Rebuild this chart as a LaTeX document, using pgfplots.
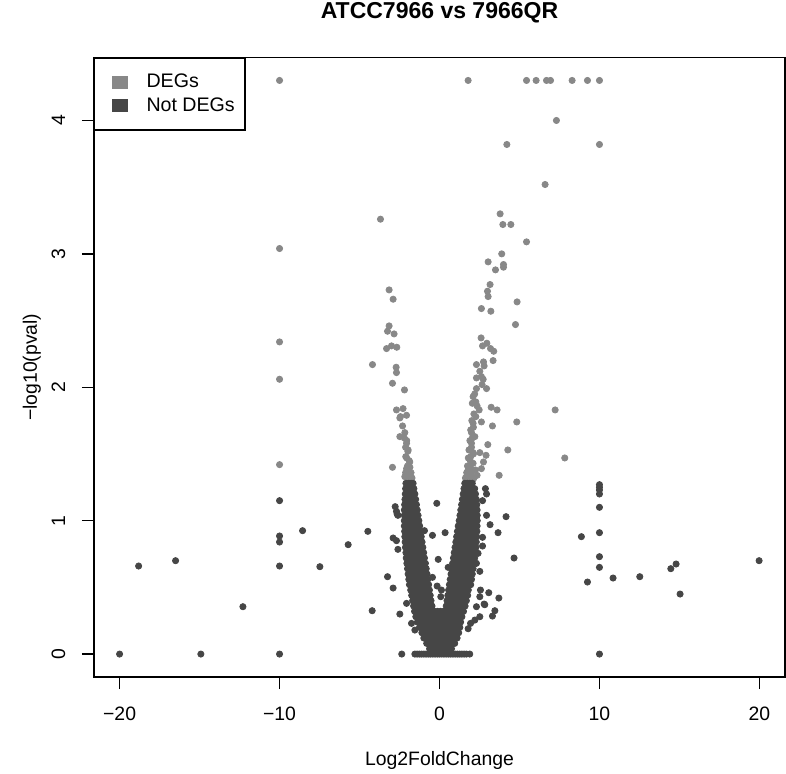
\documentclass[border=0pt]{standalone}
\usepackage{fontspec}
\setmainfont{Liberation Sans}
\usepackage{pgfplots}
\pgfplotsset{compat=1.18}
\definecolor{degcol}{RGB}{136,136,136}
\definecolor{ndegcol}{RGB}{70,70,70}
\begin{document}
\begin{tikzpicture}
\useasboundingbox (-47pt,-48pt) rectangle (346pt,338.5pt);
\begin{axis}[
    scale only axis,
    at={(0pt,0pt)}, anchor=south west,
    width=345.5pt, height=309.75pt,
    xmin=-21.6, xmax=21.6, ymin=-0.172, ymax=4.472,
    axis line style={line width=0.75pt, black},
    tick style={line width=0.75pt, black},
    tick align=outside, major tick length=6pt,
    xtick pos=bottom, ytick pos=left,
    xtick={-20,-10,0,10,20}, xticklabels={−20,−10,0,10,20},
    ytick={0,1,2,3,4}, yticklabels={0,1,2,3,4},
    tick label style={font=\fontsize{9.7}{11}\selectfont},
    xticklabel style={anchor=base},
    xticklabel shift=15.5pt,
    yticklabel style={anchor=base, rotate=90},
    yticklabel shift=8.5pt,
    every axis title shift=0pt,
    title={ATCC7966 vs 7966QR},
    title style={at={(axis description cs:0.5,1)}, anchor=base, yshift=19.6pt,
        font=\bfseries\fontsize{11.5}{13}\selectfont},
    xlabel={Log2FoldChange},
    xlabel style={at={(axis description cs:0.5,0)}, anchor=base, yshift=-44.25pt,
        font=\fontsize{9.7}{11}\selectfont},
    ylabel={−log10(pval)},
    ylabel style={at={(axis description cs:-0.0825,0.5)}, anchor=base,
        font=\fontsize{9.7}{11}\selectfont},
    legend style={at={(axis description cs:0,1)}, anchor=north west,
        draw=black, line width=0.75pt, fill=white,
        font=\fontsize{9.8}{11}\selectfont,
        inner xsep=3.2pt, inner ysep=5.9pt, row sep=-0.6pt,
        cells={anchor=west},
        /tikz/every odd column/.append style={column sep=7.5pt}},
    legend image code/.code={\path (0pt,0pt); \fill[#1] (5.3pt,-2.9pt) rectangle (12.45pt,2.9pt);},
]
% DEGs
\addplot[only marks, mark=*, color=degcol, mark size=1.55pt, mark options={draw=none}] coordinates {
(-10,4.3)(1.79,4.3)(5.44,4.3)(6.04,4.3)(6.69,4.3)(6.94,4.3)(8.29,4.3)(9.25,4.3)(10,4.3)
(7.31,4.0)(4.21,3.82)(10,3.82)(6.6,3.52)(-3.69,3.26)(-10,3.04)(-10,2.34)(-10,2.06)(-10,1.42)
(3.79,3.30)(3.96,3.22)(4.46,3.22)(5.44,3.09)(3.89,3.0)(3.04,2.94)(4.0,2.92)(4.0,2.9)(3.5,2.88)
(3.16,2.77)(3.0,2.72)(3.04,2.68)(4.85,2.64)(2.62,2.59)(3.21,2.57)(4.75,2.47)(2.6,2.37)(2.96,2.33)
(2.69,2.31)(3.19,2.29)(3.39,2.27)(3.35,2.2)(2.31,2.17)(2.75,2.19)(2.79,2.16)(2.52,2.12)(2.62,2.08)
(2.31,2.07)(2.73,2.06)(2.66,2.02)(2.94,1.99)(2.31,1.99)(2.1,1.93)(2.27,1.89)(2.35,1.86)(2.48,1.83)
(3.23,1.85)(3.6,1.83)(7.23,1.83)(2.27,1.78)(2.1,1.73)(2.62,1.74)(3.31,1.71)(4.83,1.74)(2.0,1.66)
(2.21,1.63)(2.0,1.58)(3.02,1.57)(4.27,1.53)(1.85,1.53)(2.1,1.51)(2.52,1.51)(2.91,1.49)(1.89,1.46)
(2.75,1.44)(7.83,1.47)(2.62,1.39)(1.79,1.38)(2.0,1.36)(3.73,1.34)(1.69,1.33)(2.1,1.31)
(-3.15,2.73)(-2.9,2.66)(-3.15,2.46)(-3.25,2.42)(-2.84,2.4)(-3.0,2.31)(-3.31,2.29)(-2.67,2.3)
(-4.19,2.17)(-2.71,2.15)(-2.69,2.11)(-2.94,2.03)(-2.19,1.98)(-2.69,1.83)(-2.28,1.84)(-2.44,1.78)
(-2.48,1.77)(-2.06,1.79)(-2.31,1.71)(-2.17,1.66)(-2.48,1.63)(-2.06,1.58)(-1.96,1.53)(-2.11,1.48)
(-1.86,1.44)(-2.94,1.40)(-2.06,1.39)(-1.96,1.36)(-2.17,1.33)(-1.86,1.32)
(-1.72,1.32)(-1.9,1.32)(-2.05,1.33)(-1.78,1.36)(-1.95,1.37)(-2.12,1.36)(-1.85,1.4)(-2.0,1.41)
(-1.9,1.45)(-2.05,1.47)(-1.98,1.52)(-2.12,1.55)(-2.05,1.6)(-2.2,1.62)
(1.62,1.32)(1.8,1.32)(1.98,1.33)(2.15,1.32)(2.35,1.34)(1.7,1.36)(1.88,1.37)(2.05,1.38)(2.25,1.38)
(1.75,1.41)(1.92,1.42)(2.1,1.43)(1.8,1.47)(1.95,1.48)(2.12,1.5)(1.85,1.53)(2.0,1.55)(1.9,1.6)
(2.05,1.62)(1.95,1.68)(2.12,1.7)(2.02,1.75)(2.15,1.8)(2.05,1.88)(2.2,1.95)
};
\addlegendentry{DEGs}
% Not DEGs
\addplot[only marks, mark=*, color=ndegcol, mark size=1.55pt, mark options={draw=none}] coordinates {
(-20,0)(-14.92,0)(-10,0)(-10,1.15)(-10,0.885)(-10,0.84)(-10,0.66)(-18.81,0.66)(-16.5,0.70)
(-12.29,0.355)(-8.56,0.925)(-7.48,0.655)(-5.71,0.82)(-4.48,0.92)(-4.21,0.325)(-3.25,0.58)
(-2.9,0.495)(-2.77,1.105)(-2.6,1.04)(-2.9,0.87)(-2.69,0.85)(-2.6,0.785)(-2.48,0.30)(-2.36,0)
(-2.06,0.38)(-1.75,0.23)(-1.54,0.18)(-2.65,1.05)(-2.69,1.07)
(-0.17,1.13)(-0.94,0.925)(-0.44,0.89)(0.35,0.91)(-0.08,0.71)(0.54,0.65)(-0.44,0.575)(-0.15,0.51)
(0.12,0.48)(0.08,0.43)
(10,1.27)(10,1.25)(10,1.23)(10,1.2)(10,1.1)(10,0.91)(10,0.73)(10,0.65)(10,0)(8.87,0.88)(9.25,0.54)
(10.85,0.57)(12.52,0.58)(14.46,0.64)(14.79,0.675)(15.04,0.45)(19.98,0.70)
(4.66,0.72)(4.16,1.03)(3.66,0.91)(3.16,0.97)(3.71,0.42)(3.31,0.285)(3.46,0.325)(3.08,0.46)(2.83,0.37)
(2.87,1.24)(2.94,1.2)(2.69,1.15)(2.94,1.04)(2.69,0.875)(2.69,0.81)(2.41,0.755)(2.31,0.68)(2.52,0.62)
(2.56,0.48)(2.52,0.43)(2.79,0.375)(2.31,0.355)(2.52,0.28)(2.21,0.255)(1.94,0.23)(1.79,0.19)
(-1.54,0)(-1.4,0)(-1.26,0)(-1.12,0)(-0.98,0)(-0.84,0)(-0.7,0)(-0.56,0)(-0.42,0)(-0.28,0)(-0.14,0)
(0,0)(0.14,0)(0.28,0)(0.42,0)(0.56,0)(0.7,0)(0.84,0)(0.98,0)(1.12,0)(1.26,0)(1.4,0)(1.54,0)(1.68,0)(1.89,0)
(-0.62,0.04)(-0.44,0.04)(-0.26,0.04)(-0.08,0.04)(0.1,0.04)(0.28,0.04)(0.46,0.04)(0.64,0.04)(0.75,0.04)
(-0.8,0.08)(-0.62,0.08)(-0.44,0.08)(-0.26,0.08)(-0.08,0.08)(0.1,0.08)(0.28,0.08)(0.46,0.08)(0.64,0.08)(0.82,0.08)(0.95,0.08)
(-0.98,0.12)(-0.8,0.12)(-0.62,0.12)(-0.44,0.12)(-0.26,0.12)(-0.08,0.12)(0.1,0.12)(0.28,0.12)(0.46,0.12)(0.64,0.12)(0.82,0.12)(1.0,0.12)(1.1,0.12)
(-1.1,0.16)(-0.92,0.16)(-0.74,0.16)(-0.56,0.16)(-0.38,0.16)(-0.2,0.16)(-0.02,0.16)(0.16,0.16)(0.34,0.16)(0.52,0.16)(0.7,0.16)(0.88,0.16)(1.06,0.16)(1.2,0.16)
(-1.25,0.2)(-1.07,0.2)(-0.89,0.2)(-0.71,0.2)(-0.53,0.2)(-0.35,0.2)(-0.17,0.2)(0.01,0.2)(0.19,0.2)(0.37,0.2)(0.55,0.2)(0.73,0.2)(0.91,0.2)(1.09,0.2)(1.27,0.2)
(-1.38,0.24)(-1.2,0.24)(-1.02,0.24)(-0.84,0.24)(-0.66,0.24)(-0.48,0.24)(-0.3,0.24)(-0.12,0.24)(0.06,0.24)(0.24,0.24)(0.42,0.24)(0.6,0.24)(0.78,0.24)(0.96,0.24)(1.14,0.24)(1.32,0.24)
(-1.48,0.28)(-1.3,0.28)(-1.12,0.28)(-0.94,0.28)(-0.76,0.28)(-0.58,0.28)(-0.4,0.28)(-0.22,0.28)(-0.04,0.28)(0.14,0.28)(0.32,0.28)(0.5,0.28)(0.68,0.28)(0.86,0.28)(1.04,0.28)(1.22,0.28)(1.4,0.28)
(-1.56,0.32)(-1.38,0.32)(-1.2,0.32)(-1.02,0.32)(-0.84,0.32)(-0.66,0.32)(-0.48,0.32)(-0.3,0.32)(-0.12,0.32)(0.06,0.32)(0.24,0.32)(0.42,0.32)(0.6,0.32)(0.78,0.32)(0.96,0.32)(1.14,0.32)(1.32,0.32)(1.5,0.32)
(-1.62,0.36)(-1.44,0.36)(-1.26,0.36)(-1.08,0.36)(-0.9,0.36)(-0.72,0.36)(-0.54,0.36)(-0.47,0.36)(0.42,0.36)(0.58,0.36)(0.76,0.36)(0.94,0.36)(1.12,0.36)(1.3,0.36)(1.48,0.36)(1.6,0.36)
(-1.68,0.4)(-1.5,0.4)(-1.32,0.4)(-1.14,0.4)(-0.96,0.4)(-0.78,0.4)(-0.6,0.4)(-0.53,0.4)(0.47,0.4)(0.62,0.4)(0.8,0.4)(0.98,0.4)(1.16,0.4)(1.34,0.4)(1.52,0.4)(1.68,0.4)
(-1.74,0.44)(-1.56,0.44)(-1.38,0.44)(-1.2,0.44)(-1.02,0.44)(-0.84,0.44)(-0.66,0.44)(-0.58,0.44)(0.52,0.44)(0.68,0.44)(0.86,0.44)(1.04,0.44)(1.22,0.44)(1.4,0.44)(1.58,0.44)(1.76,0.44)
(-1.8,0.48)(-1.62,0.48)(-1.44,0.48)(-1.26,0.48)(-1.08,0.48)(-0.9,0.48)(-0.72,0.48)(-0.63,0.48)(0.57,0.48)(0.72,0.48)(0.9,0.48)(1.08,0.48)(1.26,0.48)(1.44,0.48)(1.62,0.48)(1.8,0.48)
(-1.88,0.52)(-1.7,0.52)(-1.52,0.52)(-1.34,0.52)(-1.16,0.52)(-0.98,0.52)(-0.8,0.52)(-0.68,0.52)(0.62,0.52)(0.78,0.52)(0.96,0.52)(1.14,0.52)(1.32,0.52)(1.5,0.52)(1.68,0.52)(1.86,0.52)(1.95,0.52)
(-1.92,0.56)(-1.74,0.56)(-1.56,0.56)(-1.38,0.56)(-1.2,0.56)(-1.02,0.56)(-0.84,0.56)(-0.73,0.56)(0.67,0.56)(0.84,0.56)(1.02,0.56)(1.2,0.56)(1.38,0.56)(1.56,0.56)(1.74,0.56)(1.92,0.56)(2.0,0.56)
(-1.96,0.6)(-1.78,0.6)(-1.6,0.6)(-1.42,0.6)(-1.24,0.6)(-1.06,0.6)(-0.9,0.6)(-0.78,0.6)(0.72,0.6)(0.88,0.6)(1.06,0.6)(1.24,0.6)(1.42,0.6)(1.6,0.6)(1.78,0.6)(1.96,0.6)(2.05,0.6)
(-2.0,0.64)(-1.82,0.64)(-1.64,0.64)(-1.46,0.64)(-1.28,0.64)(-1.1,0.64)(-0.95,0.64)(-0.83,0.64)(0.77,0.64)(0.92,0.64)(1.1,0.64)(1.28,0.64)(1.46,0.64)(1.64,0.64)(1.82,0.64)(2.0,0.64)(2.1,0.64)
(-2.04,0.68)(-1.86,0.68)(-1.68,0.68)(-1.5,0.68)(-1.32,0.68)(-1.14,0.68)(-1.0,0.68)(-0.88,0.68)(0.82,0.68)(0.98,0.68)(1.16,0.68)(1.34,0.68)(1.52,0.68)(1.7,0.68)(1.88,0.68)(2.06,0.68)(2.15,0.68)
(-2.08,0.72)(-1.9,0.72)(-1.72,0.72)(-1.54,0.72)(-1.36,0.72)(-1.18,0.72)(-1.05,0.72)(-0.94,0.72)(0.87,0.72)(1.02,0.72)(1.2,0.72)(1.38,0.72)(1.56,0.72)(1.74,0.72)(1.92,0.72)(2.1,0.72)(2.2,0.72)
(-2.1,0.76)(-1.92,0.76)(-1.74,0.76)(-1.56,0.76)(-1.38,0.76)(-1.2,0.76)(-1.08,0.76)(-0.99,0.76)(0.92,0.76)(1.08,0.76)(1.26,0.76)(1.44,0.76)(1.62,0.76)(1.8,0.76)(1.98,0.76)(2.16,0.76)(2.25,0.76)
(-2.13,0.8)(-1.95,0.8)(-1.77,0.8)(-1.59,0.8)(-1.41,0.8)(-1.23,0.8)(-1.1,0.8)(-1.04,0.8)(0.97,0.8)(1.12,0.8)(1.3,0.8)(1.48,0.8)(1.66,0.8)(1.84,0.8)(2.02,0.8)(2.2,0.8)(2.28,0.8)
(-2.15,0.84)(-1.97,0.84)(-1.79,0.84)(-1.61,0.84)(-1.43,0.84)(-1.25,0.84)(-1.09,0.84)(1.02,0.84)(1.18,0.84)(1.36,0.84)(1.54,0.84)(1.72,0.84)(1.9,0.84)(2.08,0.84)(2.3,0.84)
(-2.17,0.88)(-1.99,0.88)(-1.81,0.88)(-1.63,0.88)(-1.45,0.88)(-1.28,0.88)(-1.14,0.88)(1.07,0.88)(1.22,0.88)(1.4,0.88)(1.58,0.88)(1.76,0.88)(1.94,0.88)(2.12,0.88)(2.32,0.88)
(-2.18,0.92)(-2.0,0.92)(-1.82,0.92)(-1.64,0.92)(-1.46,0.92)(-1.3,0.92)(-1.19,0.92)(1.12,0.92)(1.28,0.92)(1.46,0.92)(1.64,0.92)(1.82,0.92)(2.0,0.92)(2.18,0.92)(2.34,0.92)
(-2.2,0.96)(-2.02,0.96)(-1.84,0.96)(-1.66,0.96)(-1.48,0.96)(-1.34,0.96)(-1.24,0.96)(1.17,0.96)(1.32,0.96)(1.5,0.96)(1.68,0.96)(1.86,0.96)(2.04,0.96)(2.22,0.96)(2.35,0.96)
(-2.2,1.0)(-2.02,1.0)(-1.84,1.0)(-1.66,1.0)(-1.5,1.0)(-1.38,1.0)(-1.29,1.0)(1.23,1.0)(1.38,1.0)(1.56,1.0)(1.74,1.0)(1.92,1.0)(2.1,1.0)(2.28,1.0)(2.36,1.0)
(-2.2,1.04)(-2.02,1.04)(-1.84,1.04)(-1.66,1.04)(-1.5,1.04)(-1.34,1.04)(1.28,1.04)(1.44,1.04)(1.62,1.04)(1.8,1.04)(1.98,1.04)(2.16,1.04)(2.36,1.04)
(-2.2,1.08)(-2.02,1.08)(-1.84,1.08)(-1.66,1.08)(-1.52,1.08)(-1.39,1.08)(1.33,1.08)(1.48,1.08)(1.66,1.08)(1.84,1.08)(2.02,1.08)(2.2,1.08)(2.35,1.08)
(-2.18,1.12)(-2.0,1.12)(-1.82,1.12)(-1.64,1.12)(-1.44,1.12)(1.38,1.12)(1.54,1.12)(1.72,1.12)(1.9,1.12)(2.08,1.12)(2.33,1.12)
(-2.16,1.16)(-1.98,1.16)(-1.8,1.16)(-1.64,1.16)(-1.49,1.16)(1.43,1.16)(1.58,1.16)(1.76,1.16)(1.94,1.16)(2.12,1.16)(2.3,1.16)
(-2.14,1.2)(-1.96,1.2)(-1.78,1.2)(-1.64,1.2)(-1.54,1.2)(1.48,1.2)(1.64,1.2)(1.82,1.2)(2.0,1.2)(2.25,1.2)
(-2.12,1.24)(-1.94,1.24)(-1.78,1.24)(-1.6,1.24)(1.53,1.24)(1.7,1.24)(1.88,1.24)(2.05,1.24)(2.2,1.24)
(-2.1,1.28)(-1.92,1.28)(-1.78,1.28)(-1.65,1.28)(1.58,1.28)(1.74,1.28)(1.9,1.28)(2.05,1.28)
};
\addlegendentry{Not DEGs}
\end{axis}
\end{tikzpicture}
\end{document}
